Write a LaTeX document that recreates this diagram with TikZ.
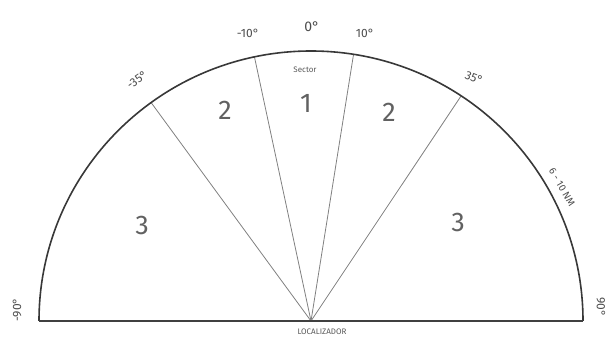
\documentclass[tikz,border=0pt]{standalone}
\usepackage{fontspec}
\setmainfont{Fira Sans}
\begin{document}
\begin{tikzpicture}[x=1pt,y=1pt,
  arcline/.style={draw=black!78, line width=1.6pt},
  baseline/.style={draw=black!75, line width=1.3pt},
  radial/.style={draw=black!50, line width=0.8pt},
  bignum/.style={text=black!62, font=\fontsize{27}{29}\selectfont},
  deg/.style={text=black!70, font=\fontsize{12}{14}\selectfont, inner sep=0pt},
  small/.style={text=black!65, font=\fontsize{8}{9}\selectfont, inner sep=0pt}]
\useasboundingbox (0,0) rectangle (616,340);
\coordinate (C) at (311,19);
\path (C) ++(180:272 and 270) coordinate (L);
\path (C) ++(0:272 and 270) coordinate (R);
\path (C) ++(102:272 and 270) coordinate (m10);
\path (C) ++(81:272 and 270) coordinate (p10);
\path (C) ++(126:272 and 270) coordinate (m35);
\path (C) ++(56.5:272 and 270) coordinate (p35);
% radial lines
\draw[radial] (C) -- (m10);
\draw[radial] (C) -- (p10);
\draw[radial] (C) -- (m35);
\draw[radial] (C) -- (p35);
% arc and base
\draw[arcline] (R) arc[start angle=0, end angle=180, x radius=272, y radius=270];
\draw[baseline] (L) -- (R);
% sector numbers
\node[bignum] (n1) at (306,237) {1};
\node[bignum] (n2l) at (225,230) {2};
\node[bignum] (n2r) at (389,228) {2};
\node[bignum] (n3l) at (142,115) {3};
\node[bignum] (n3r) at (458,118) {3};
% labels
\node[deg, font=\fontsize{14}{16}\selectfont] (d0) at (312,313) {0°};
\node[deg] (dm10) at (248,307) {-10°};
\node[deg] (dp10) at (365,307) {10°};
\node[deg, rotate=35] (dm35) at (137,260) {-35°};
\node[deg, rotate=-22] (dp35) at (474,262) {35°};
\node[deg, rotate=90] (dm90) at (17,30) {-90°};
\node[deg, rotate=-90] (dp90) at (601,33) {90°};
\node[deg, rotate=-60, font=\fontsize{10}{12}\selectfont] (nm) at (562,153) {6 - 10 NM};
\node[small] (sec) at (305,270) {Sector};
\node[small] (loc) at (322,8) {LOCALIZADOR};
\end{tikzpicture}
\end{document}
